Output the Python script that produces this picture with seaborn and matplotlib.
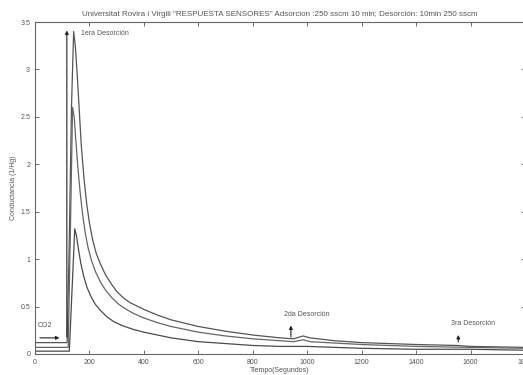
import pandas as pd
import matplotlib
matplotlib.use("Agg")
import matplotlib.pyplot as plt
import seaborn as sns

# Sensor responses (time in s, conductance)
t_a = [0, 60, 118, 126, 134, 142, 148, 155, 162, 170, 180, 190, 200, 212, 225, 240, 260, 280, 300, 325, 350, 400, 450, 500, 600, 700, 800, 900, 950, 985, 1010, 1100, 1200, 1400, 1550, 1600, 1800]
g_a = [0.12, 0.12, 0.12, 1.2, 2.6, 3.4, 3.25, 2.95, 2.6, 2.2, 1.85, 1.58, 1.38, 1.2, 1.06, 0.95, 0.83, 0.74, 0.66, 0.59, 0.54, 0.47, 0.41, 0.36, 0.29, 0.24, 0.2, 0.17, 0.16, 0.19, 0.17, 0.14, 0.12, 0.1, 0.09, 0.08, 0.07]

t_b = [0, 60, 122, 130, 138, 144, 150, 158, 166, 175, 185, 195, 208, 222, 240, 260, 280, 305, 330, 360, 400, 450, 500, 600, 700, 800, 900, 950, 985, 1010, 1200, 1400, 1600, 1800]
g_b = [0.07, 0.07, 0.07, 1.3, 2.6, 2.5, 2.25, 1.95, 1.7, 1.47, 1.27, 1.12, 0.98, 0.87, 0.76, 0.67, 0.6, 0.53, 0.48, 0.43, 0.38, 0.33, 0.29, 0.23, 0.19, 0.16, 0.14, 0.13, 0.15, 0.13, 0.1, 0.08, 0.07, 0.06]

t_c = [0, 60, 126, 138, 146, 152, 160, 168, 178, 190, 205, 220, 240, 265, 290, 320, 360, 400, 450, 500, 600, 700, 800, 900, 1000, 1200, 1400, 1600, 1800]
g_c = [0.03, 0.03, 0.03, 0.8, 1.32, 1.25, 1.1, 0.96, 0.83, 0.71, 0.61, 0.53, 0.46, 0.39, 0.34, 0.3, 0.26, 0.23, 0.2, 0.17, 0.13, 0.11, 0.09, 0.08, 0.08, 0.06, 0.05, 0.05, 0.04]

x_ticks = [0, 200, 400, 600, 800, 1000, 1200, 1400, 1600, 1800]
y_ticks = [0, 0.5, 1, 1.5, 2, 2.5, 3, 3.5]

df = pd.concat([
    pd.DataFrame({"t": t_a, "g": g_a, "sensor": "A"}),
    pd.DataFrame({"t": t_b, "g": g_b, "sensor": "B"}),
    pd.DataFrame({"t": t_c, "g": g_c, "sensor": "C"}),
])

sns.set_style("ticks")
plt.rcParams["font.family"] = ["Liberation Sans", "DejaVu Sans"]
plt.rcParams["xtick.direction"] = "in"
plt.rcParams["ytick.direction"] = "in"

txt = "#555555"
fig = plt.figure(figsize=(5.23, 3.75), dpi=100)
ax = fig.add_axes([35 / 523, 21 / 375, 490 / 523, 332 / 375])

sns.lineplot(data=df, x="t", y="g", hue="sensor", palette=["#555555", "#666666", "#4a4a4a"],
             linewidth=0.9, legend=False, ax=ax, sort=False)

ax.set_xlim(0, 1800)
ax.set_ylim(0, 3.5)
ax.set_xticks(x_ticks)
ax.set_yticks(y_ticks)
ax.set_yticklabels(["0", "0.5", "1", "1.5", "2", "2.5", "3", "3.5"])
ax.tick_params(labelsize=5, colors=txt, length=3, width=0.6, top=True, right=True)
for s in ax.spines.values():
    s.set_color("#666666")
    s.set_linewidth(0.8)

ax.set_xlabel("Tiempo(Segundos)", fontsize=5, color=txt, labelpad=1)
ax.set_ylabel("Conductancia (1/Hg)", fontsize=5, color=txt, labelpad=2)
ax.set_title('Universitat Rovira i Virgili "RESPUESTA SENSORES" Adsorcion :250 sscm 10 min; Desorción: 10min 250 sscm',
             fontsize=5.8, color=txt, pad=4)

arrow = dict(arrowstyle="-|>", color="#222222", lw=0.8, mutation_scale=5)
ax.annotate("", xy=(117, 3.44), xytext=(117, 0.15), arrowprops=arrow)
ax.text(168, 3.38, "1era Desorción", fontsize=5, color=txt, va="center")
ax.annotate("", xy=(100, 0.17), xytext=(8, 0.17), arrowprops=arrow)
ax.text(10, 0.3, "CO2", fontsize=5, color=txt, va="center")
ax.annotate("", xy=(940, 0.33), xytext=(940, 0.15), arrowprops=arrow)
ax.text(915, 0.42, "2da Desorción", fontsize=5, color=txt, va="center")
ax.annotate("", xy=(1555, 0.23), xytext=(1555, 0.1), arrowprops=arrow)
ax.text(1530, 0.32, "3ra Desorción", fontsize=5, color=txt, va="center")

fig.savefig("out.png", dpi=100)
